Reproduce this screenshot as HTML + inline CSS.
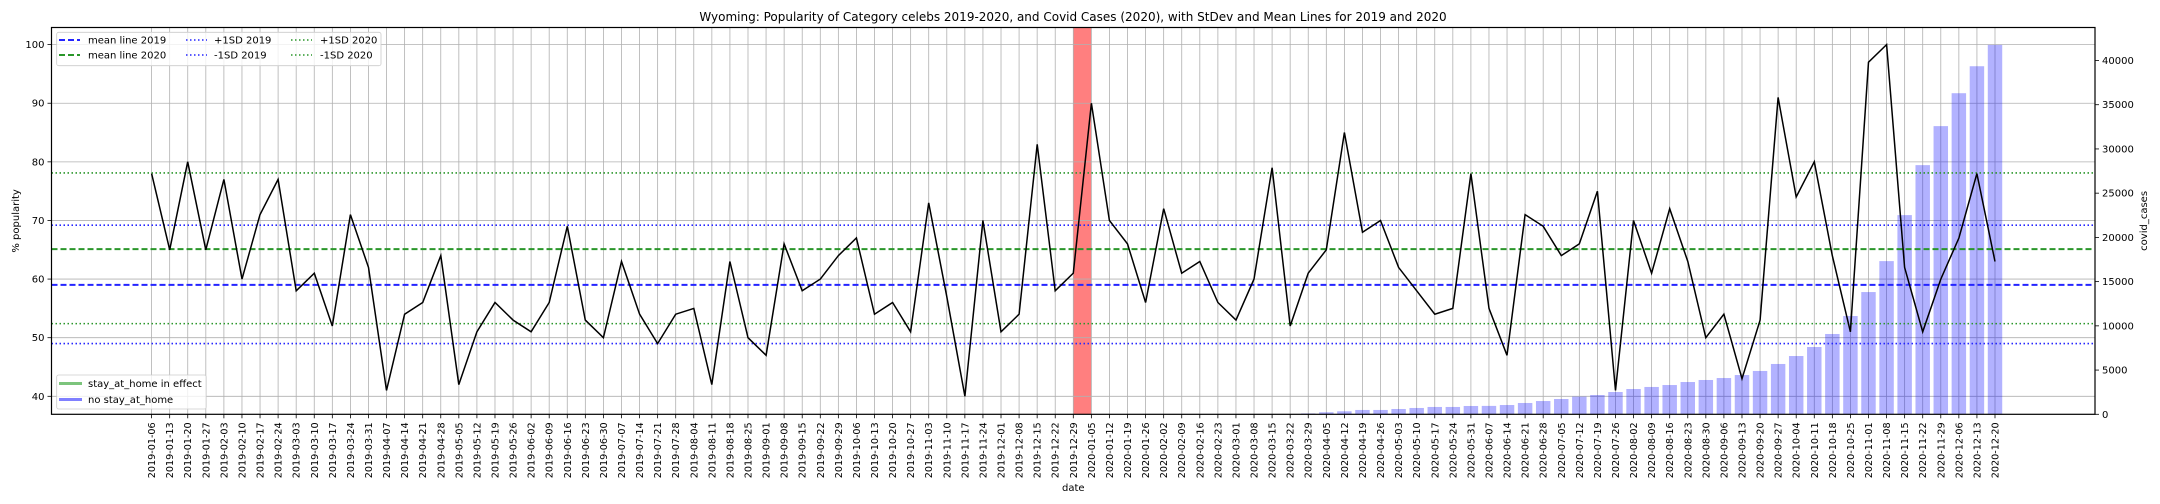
<!DOCTYPE html>
<html><head><meta charset="utf-8">
<style>
html,body{margin:0;padding:0;background:#fff;}
svg{display:block;font-family:"DejaVu Sans","Liberation Sans",sans-serif;}
</style></head>
<body>
<svg id="chart" width="2160" height="504" viewBox="0 0 2160 504" xmlns="http://www.w3.org/2000/svg">
<rect x="0" y="0" width="2160" height="504" fill="#fff"/>
<text x="1073" y="21" font-size="12" text-anchor="middle">Wyoming: Popularity of Category celebs 2019-2020, and Covid Cases (2020), with StDev and Mean Lines for 2019 and 2020</text>
<g id="plot"></g>
</svg>
<script>
const dates2019 = ["2019-01-06","2019-01-13","2019-01-20","2019-01-27","2019-02-03","2019-02-10","2019-02-17","2019-02-24","2019-03-03","2019-03-10","2019-03-17","2019-03-24","2019-03-31","2019-04-07","2019-04-14","2019-04-21","2019-04-28","2019-05-05","2019-05-12","2019-05-19","2019-05-26","2019-06-02","2019-06-09","2019-06-16","2019-06-23","2019-06-30","2019-07-07","2019-07-14","2019-07-21","2019-07-28","2019-08-04","2019-08-11","2019-08-18","2019-08-25","2019-09-01","2019-09-08","2019-09-15","2019-09-22","2019-09-29","2019-10-06","2019-10-13","2019-10-20","2019-10-27","2019-11-03","2019-11-10","2019-11-17","2019-11-24","2019-12-01","2019-12-08","2019-12-15","2019-12-22","2019-12-29"];
const dates2020 = ["2020-01-05","2020-01-12","2020-01-19","2020-01-26","2020-02-02","2020-02-09","2020-02-16","2020-02-23","2020-03-01","2020-03-08","2020-03-15","2020-03-22","2020-03-29","2020-04-05","2020-04-12","2020-04-19","2020-04-26","2020-05-03","2020-05-10","2020-05-17","2020-05-24","2020-05-31","2020-06-07","2020-06-14","2020-06-21","2020-06-28","2020-07-05","2020-07-12","2020-07-19","2020-07-26","2020-08-02","2020-08-09","2020-08-16","2020-08-23","2020-08-30","2020-09-06","2020-09-13","2020-09-20","2020-09-27","2020-10-04","2020-10-11","2020-10-18","2020-10-25","2020-11-01","2020-11-08","2020-11-15","2020-11-22","2020-11-29","2020-12-06","2020-12-13","2020-12-20"];
const popularity2019 = [78,65,80,65,77,60,71,77,58,61,52,71,62,41,54,56,64,42,51,56,53,51,56,69,53,50,63,54,49,54,55,42,63,50,47,66,58,60,64,67,54,56,51,73,57,40,70,51,54,83,58,61];
const popularity2020 = [90,70,66,56,72,61,63,56,53,60,79,52,61,65,85,68,70,62,58,54,55,78,55,47,71,69,64,66,75,41,70,61,72,63,50,54,43,53,91,74,80,64,51,97,100,62,51,60,67,78,63];
const covidCases2020 = [0,0,0,0,0,0,0,0,0,0,0,30,100,230,340,490,490,600,715,830,830,940,950,1050,1280,1500,1730,2000,2180,2520,2860,3090,3310,3650,3880,4100,4440,4900,5690,6590,7610,9080,11110,13820,17320,22520,28170,32580,36300,39350,41760];
const meanLines = [59.0, 65.1];
const sdLines2019 = [69.2, 49.0];
const sdLines2020 = [78.1, 52.4];
const leftTicks = [40,50,60,70,80,90,100];
const rightTicks = [0,5000,10000,15000,20000,25000,30000,35000,40000];
const redSpanIndex = [51, 52];

const NS = "http://www.w3.org/2000/svg";
const L = 51.5, R = 2095, T = 27.5, B = 414.3;
const dates = dates2019.concat(dates2020);
const pop = popularity2019.concat(popularity2020);
const x0 = 151.6, step = (1995 - 151.6) / 102;
function xs(i){ return x0 + i * step; }
const yMin = 36.93, yMax = 102.92;
function ys(v){ return B - (v - yMin) / (yMax - yMin) * (B - T); }
const cMax = 43729;
function yc(v){ return B - v / cMax * (B - T); }
const g = document.getElementById('plot');
function mk(tag, attrs, parent){
  const e = document.createElementNS(NS, tag);
  for (const k in attrs) e.setAttribute(k, attrs[k]);
  (parent || g).appendChild(e);
  return e;
}
// red span
let span = mk('rect', {x: xs(redSpanIndex[0]), y: T, width: xs(redSpanIndex[1]) - xs(redSpanIndex[0]), height: B - T, fill: '#ff7f7f'});


// grid
dates.forEach((d, i) => {
  const ln = mk('line', {x1: xs(i), x2: xs(i), y1: T, y2: B, stroke: '#b0b0b0', 'stroke-width': 0.8});
  
  
});
leftTicks.forEach(v => {
  const ln = mk('line', {x1: L, x2: R, y1: ys(v), y2: ys(v), stroke: '#b0b0b0', 'stroke-width': 0.8});
  
  
});
// bars
covidCases2020.forEach((v, j) => {
  const i = dates2019.length + j;
  const bw = step * 0.8;
  const b = mk('rect', {x: xs(i) - bw / 2, y: yc(v), width: bw, height: B - yc(v), fill: 'rgba(0,0,255,0.3)'});
  
  
});
// reference lines
function hline(v, color, dash, name, w){
  const ln = mk('line', {x1: L, x2: R, y1: ys(v), y2: ys(v), stroke: color, 'stroke-width': w || 1.6, 'stroke-dasharray': dash});
  
  
}
hline(meanLines[0], '#2424ff', '6,3', 'mean-line-2019', 2);
hline(meanLines[1], '#2a962a', '6,3', 'mean-line-2020', 2);
hline(sdLines2019[0], '#2424ff', '1.5,2.5', 'plus-1sd-2019-line');
hline(sdLines2019[1], '#2424ff', '1.5,2.5', 'minus-1sd-2019-line');
hline(sdLines2020[0], '#2a962a', '1.5,2.5', 'plus-1sd-2020-line');
hline(sdLines2020[1], '#2a962a', '1.5,2.5', 'minus-1sd-2020-line');
// popularity line
const pts = pop.map((v, i) => xs(i).toFixed(1) + ',' + ys(v).toFixed(1)).join(' ');
const pl = mk('polyline', {points: pts, fill: 'none', stroke: '#000', 'stroke-width': 1.5});


// frame
const fr = mk('rect', {x: L, y: T, width: R - L, height: B - T, fill: 'none', stroke: '#000', 'stroke-width': 1.2});


// x ticks
dates.forEach((d, i) => {
  const tk = mk('line', {x1: xs(i), x2: xs(i), y1: B, y2: B + 4, stroke: '#000', 'stroke-width': 0.8});
  
  
  const t = mk('text', {x: 0, y: 0, 'font-size': 10, 'text-anchor': 'end', transform: `translate(${xs(i) + 3.5},${B + 8}) rotate(-90)`, textLength: 56, lengthAdjust: 'spacingAndGlyphs'});
  t.textContent = d;
  
  
});
// left ticks
leftTicks.forEach(v => {
  const tk = mk('line', {x1: L - 4, x2: L, y1: ys(v), y2: ys(v), stroke: '#000', 'stroke-width': 0.8});
  
  
  const t = mk('text', {x: L - 7, y: ys(v) + 3.5, 'font-size': 10, 'text-anchor': 'end'});
  t.textContent = v;
  
  
});
// right ticks
rightTicks.forEach(v => {
  const tk = mk('line', {x1: R, x2: R + 4, y1: yc(v), y2: yc(v), stroke: '#000', 'stroke-width': 0.8});
  
  
  const t = mk('text', {x: R + 7, y: yc(v) + 3.5, 'font-size': 10, 'text-anchor': 'start'});
  t.textContent = v;
  
  
});
// axis titles
let at = mk('text', {x: 0, y: 0, 'font-size': 10, 'text-anchor': 'middle', transform: `translate(19,${(T + B) / 2}) rotate(-90)`});
at.textContent = '% popularity';


at = mk('text', {x: 0, y: 0, 'font-size': 10, 'text-anchor': 'middle', transform: `translate(2147,${(T + B) / 2}) rotate(-90)`});
at.textContent = 'covid_cases';


at = mk('text', {x: (L + R) / 2, y: 491, 'font-size': 10, 'text-anchor': 'middle'});
at.textContent = 'date';


// legend 1
const lg1 = mk('g', {});


mk('rect', {x: 56.7, y: 32.3, width: 324.3, height: 33.4, rx: 2, fill: 'rgba(255,255,255,0.8)', stroke: '#ccc', 'stroke-width': 0.8}, lg1);
const legItems = [
  [59, 88, 40, 'mean line 2019', '#2424ff', '6,3', 2],
  [59, 88, 55, 'mean line 2020', '#2a962a', '6,3', 2],
  [186, 214, 40, '+1SD 2019', '#2424ff', '1.5,2.5', 1.6],
  [186, 214, 55, '-1SD 2019', '#2424ff', '1.5,2.5', 1.6],
  [291, 320, 40, '+1SD 2020', '#2a962a', '1.5,2.5', 1.6],
  [291, 320, 55, '-1SD 2020', '#2a962a', '1.5,2.5', 1.6]
];
legItems.forEach(it => {
  const e = mk('g', {}, lg1);
  
  
  mk('line', {x1: it[0], x2: it[0] + 21, y1: it[2], y2: it[2], stroke: it[4], 'stroke-width': it[6], 'stroke-dasharray': it[5]}, e);
  const t = mk('text', {x: it[1], y: it[2] + 3.6, 'font-size': 10}, e);
  t.textContent = it[3];
});
// legend 2
const lg2 = mk('g', {});


mk('rect', {x: 56.7, y: 375, width: 149.5, height: 34, rx: 2, fill: 'rgba(255,255,255,0.8)', stroke: '#ccc', 'stroke-width': 0.8}, lg2);
[[383.5, 'stay_at_home in effect', '#7cc47c'], [399.5, 'no stay_at_home', '#8080ff']].forEach(it => {
  const e = mk('g', {}, lg2);
  
  
  mk('line', {x1: 59, x2: 82, y1: it[0], y2: it[0], stroke: it[2], 'stroke-width': 3}, e);
  const t = mk('text', {x: 88, y: it[0] + 3.6, 'font-size': 10}, e);
  t.textContent = it[1];
});
</script>
</body></html>
